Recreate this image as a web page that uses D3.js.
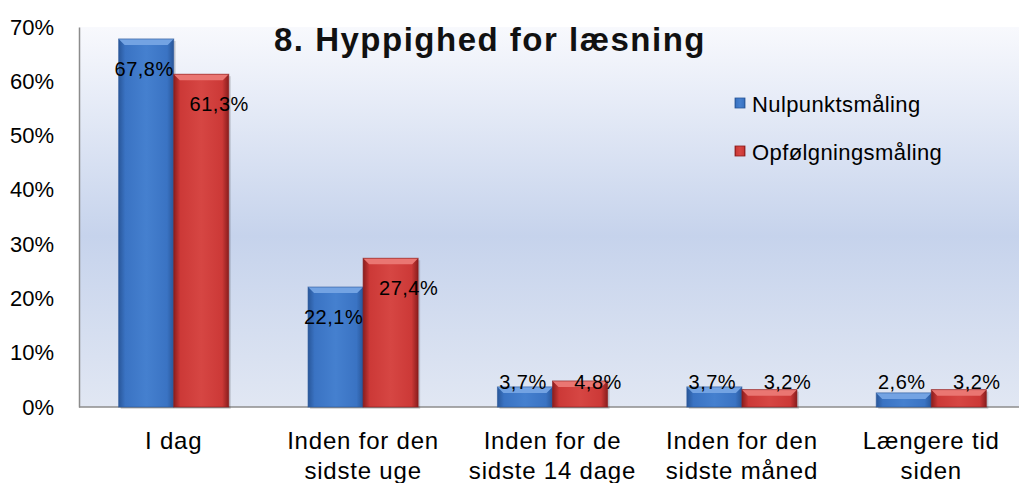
<!DOCTYPE html>
<html>
<head>
<meta charset="utf-8">
<script src="https://cdn.jsdelivr.net/npm/d3@7"></script>
<style>
  body { margin: 0; background: #fff; }
  svg { display: block; }
</style>
</head>
<body>
<svg id="chart"></svg>
<script>
const categories = [
    ["I dag"],
    ["Inden for den", "sidste uge"],
    ["Inden for de", "sidste 14 dage"],
    ["Inden for den", "sidste måned"],
    ["Længere tid", "siden"]
];
const seriesNames = ["Nulpunktsmåling", "Opfølgningsmåling"];
const nulpunkt = [0.678, 0.221, 0.037, 0.037, 0.026];
const opfoelgning = [0.613, 0.274, 0.048, 0.032, 0.032];
const yTicks = [0, 0.1, 0.2, 0.3, 0.4, 0.5, 0.6, 0.7];
const titleText = "8. Hyppighed for læsning";

const width = 1019;
const height = 483;
const margin = { top: 27, right: -7, bottom: 76, left: 79 };
const font = "Liberation Sans, Arial, sans-serif";

const svg = d3.select("#chart")
    .attr("width", width)
    .attr("height", height);

const defs = svg.append("defs");

let bg = defs.append("linearGradient")
    .attr("id", "plotBg")
    .attr("x1", 0).attr("y1", 0).attr("x2", 0).attr("y2", 1);
bg.append("stop").attr("offset", "0%").attr("stop-color", "#f8f9fd");
bg.append("stop").attr("offset", "55%").attr("stop-color", "#c6d3ec");
bg.append("stop").attr("offset", "100%").attr("stop-color", "#e1e7f3");

const palette = {
    "Nulpunktsmåling": { dark: "#29579a", mid: "#3a73c3", light: "#4580cf", top: "#73a3e3" },
    "Opfølgningsmåling": { dark: "#8a1d1d", mid: "#cc3937", light: "#d64643", top: "#ea7672" }
};

seriesNames.forEach((s, i) => {
    let g = defs.append("linearGradient")
        .attr("id", "barGrad" + i)
        .attr("x1", 0).attr("y1", 0).attr("x2", 1).attr("y2", 0);
    g.append("stop").attr("offset", "0%").attr("stop-color", palette[s].dark);
    g.append("stop").attr("offset", "12%").attr("stop-color", palette[s].mid);
    g.append("stop").attr("offset", "50%").attr("stop-color", palette[s].light);
    g.append("stop").attr("offset", "88%").attr("stop-color", palette[s].mid);
    g.append("stop").attr("offset", "100%").attr("stop-color", palette[s].dark);
});

const x0 = d3.scaleBand()
    .domain(d3.range(categories.length))
    .range([margin.left, width - margin.right]);

const x1 = d3.scaleBand()
    .domain(seriesNames)
    .range([0, x0.bandwidth()])
    .paddingOuter(0.72);

const y = d3.scaleLinear()
    .domain([0, 0.7])
    .range([height - margin.bottom, margin.top]);

// plot area
svg.append("rect")
    .attr("x", margin.left)
    .attr("y", margin.top)
    .attr("width", width - margin.left)
    .attr("height", y(0) - margin.top)
    .attr("fill", "url(#plotBg)");

// y axis
let yAxis = svg.append("g")
    .attr("transform", `translate(${margin.left},0)`)
    .call(d3.axisLeft(y).tickValues(yTicks).tickFormat(d3.format(".0%")).tickSize(0).tickPadding(25));
yAxis.select(".domain").attr("stroke", "#8c8c8c").attr("stroke-width", 1.5);
yAxis.selectAll("text")
    .attr("font-family", font)
    .attr("font-size", "22px")
    .attr("fill", "#000");

svg.append("line")
    .attr("x1", margin.left).attr("x2", width)
    .attr("y1", y(0)).attr("y2", y(0))
    .attr("stroke", "#8c8c8c").attr("stroke-width", 1.5);

let rows = [];
categories.forEach((c, i) => {
    rows.push({ cat: i, series: seriesNames[0], value: nulpunkt[i], si: 0 });
    rows.push({ cat: i, series: seriesNames[1], value: opfoelgning[i], si: 1 });
});

const bevel = 6;

let bars = svg.append("g").selectAll("g.bar")
    .data(rows)
    .enter().append("g")
    .attr("class", "bar");

// soft shadow
bars.append("rect")
    .attr("x", d => x0(d.cat) + x1(d.series) + 2)
    .attr("y", d => y(d.value) + 2)
    .attr("width", x1.bandwidth())
    .attr("height", d => y(0) - y(d.value))
    .attr("fill", "#000")
    .attr("opacity", 0.15);

bars.append("rect")
    .attr("x", d => x0(d.cat) + x1(d.series))
    .attr("y", d => y(d.value))
    .attr("width", x1.bandwidth())
    .attr("height", d => y(0) - y(d.value))
    .attr("fill", d => `url(#barGrad${d.si})`);

bars.append("polygon")
    .attr("points", d => {
        let bx = x0(d.cat) + x1(d.series);
        let by = y(d.value);
        let w = x1.bandwidth();
        return [[bx, by], [bx + w, by], [bx + w - bevel, by + bevel], [bx + bevel, by + bevel]]
            .map(p => p.join(",")).join(" ");
    })
    .attr("fill", d => palette[d.series].top);

bars.append("rect")
    .attr("x", d => x0(d.cat) + x1(d.series))
    .attr("y", d => y(d.value))
    .attr("width", x1.bandwidth())
    .attr("height", d => y(0) - y(d.value))
    .attr("fill", "none")
    .attr("stroke", d => palette[d.series].dark)
    .attr("stroke-opacity", 0.6)
    .attr("stroke-width", 1);

// value labels
const fmt = v => d3.format(".1f")(v * 100).replace(".", ",") + "%";
svg.append("g").selectAll("text")
    .data(rows)
    .enter().append("text")
    .attr("x", d => x0(d.cat) + x1(d.series) + x1.bandwidth() / 2 + (d.si === 1 ? 18 : -2))
    .attr("y", d => Math.min(y(d.value) + 30, y(0) - 25))
    .attr("text-anchor", "middle")
    .attr("dominant-baseline", "central")
    .attr("font-family", font)
    .attr("font-size", "20px")
    .attr("letter-spacing", "0.5px")
    .attr("fill", "#000")
    .text(d => fmt(d.value));

// category labels
let catLabels = svg.append("g").selectAll("text")
    .data(categories)
    .enter().append("text")
    .attr("x", (d, i) => x0(i) + x0.bandwidth() / 2)
    .attr("y", 449)
    .attr("text-anchor", "middle")
    .attr("font-family", font)
    .attr("font-size", "24px")
    .attr("letter-spacing", "0.8px")
    .attr("fill", "#000");
catLabels.selectAll("tspan")
    .data(d => d)
    .enter().append("tspan")
    .attr("x", function() { return d3.select(this.parentNode).attr("x"); })
    .attr("dy", (d, i) => i === 0 ? 0 : 30)
    .text(d => d);

// title
svg.append("text")
    .attr("x", 490)
    .attr("y", 51)
    .attr("text-anchor", "middle")
    .attr("font-family", font)
    .attr("font-weight", "bold")
    .attr("font-size", "33px")
    .attr("letter-spacing", "1.5px")
    .attr("fill", "#111")
    .text(titleText);

// legend
let legend = svg.append("g").selectAll("g")
    .data(seriesNames)
    .enter().append("g")
    .attr("transform", (d, i) => `translate(735,${103 + i * 48})`);
legend.append("rect")
    .attr("x", 0).attr("y", -5)
    .attr("width", 10).attr("height", 10)
    .attr("fill", (d, i) => `url(#barGrad${i})`)
    .attr("stroke", d => palette[d].dark)
    .attr("stroke-width", 0.8);
legend.append("text")
    .attr("x", 17)
    .attr("y", 1)
    .attr("dominant-baseline", "central")
    .attr("font-family", font)
    .attr("font-size", "22px")
    .attr("letter-spacing", "0.4px")
    .attr("fill", "#000")
    .text(d => d);
</script>
</body>
</html>
